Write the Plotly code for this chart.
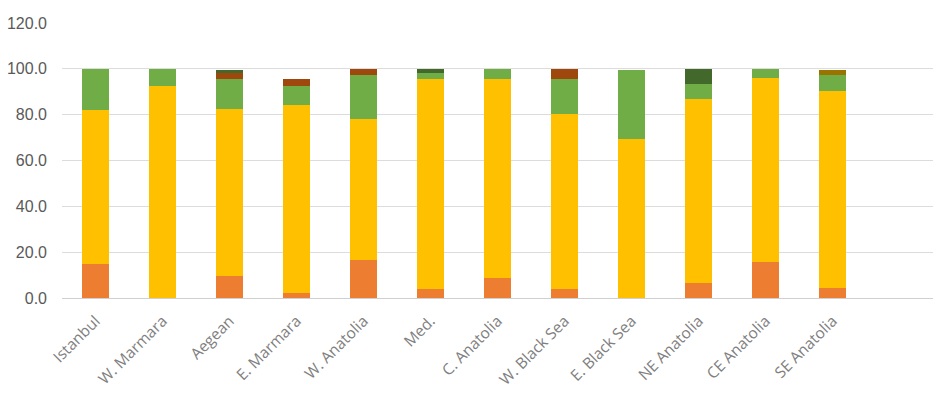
import plotly.graph_objects as go

regions = ["Istanbul", "W. Marmara", "Aegean", "E. Marmara", "W. Anatolia", "Med.",
           "C. Anatolia", "W. Black Sea", "E. Black Sea", "NE Anatolia", "CE Anatolia", "SE Anatolia"]

s_orange = [15.0, 0.0, 9.6, 2.3, 16.6, 3.9, 8.9, 3.8, 0.0, 6.4, 15.7, 4.5]
s_yellow = [67.0, 92.6, 72.8, 82.1, 61.4, 91.6, 86.6, 76.5, 69.3, 80.4, 80.4, 85.7]
s_green = [18.0, 7.4, 13.1, 8.2, 19.4, 2.6, 4.4, 15.2, 30.0, 6.6, 3.9, 7.2]
s_brown = [0.0, 0.0, 2.6, 2.9, 2.5, 0.0, 0.0, 4.4, 0.0, 0.0, 0.0, 0.0]
s_darkyellow = [0.0, 0.0, 0.0, 0.0, 0.0, 0.0, 0.0, 0.0, 0.0, 0.0, 0.0, 2.2]
s_darkgreen = [0.0, 0.0, 1.4, 0.0, 0.0, 1.9, 0.0, 0.0, 0.0, 6.6, 0.0, 0.0]

y_ticks = [0, 20, 40, 60, 80, 100, 120]

series = [
    (s_orange, "#ED7D31"),
    (s_yellow, "#FFC000"),
    (s_green, "#70AD47"),
    (s_brown, "#9E480E"),
    (s_darkyellow, "#997300"),
    (s_darkgreen, "#43682B"),
]

fig = go.Figure()
for vals, col in series:
    fig.add_trace(go.Bar(x=regions, y=vals, marker=dict(color=col, line=dict(width=0)),
                         showlegend=False))

fig.update_layout(
    barmode="stack",
    bargap=0.6,
    width=942, height=417,
    margin=dict(l=62, r=9, t=23, b=119),
    plot_bgcolor="white", paper_bgcolor="white",
    xaxis=dict(range=[-0.5, 12.5], tickangle=-45, showgrid=False, showline=False,
               ticks="", ticklabelstandoff=10, automargin=False,
               tickfont=dict(family="Open Sans", size=15.5, color="#808080")),
    yaxis=dict(range=[0, 120], tickvals=y_ticks, ticktext=[f"{v:.1f}" for v in y_ticks],
               showgrid=True, gridcolor="#dcdcdc", gridwidth=1, zeroline=True,
               zerolinecolor="#d0d0d0", zerolinewidth=1, showline=False, ticks="",
               ticklabelstandoff=14, automargin=False,
               tickfont=dict(family="Liberation Sans", size=16, color="#595959")),
)

fig.write_html("out.html")
